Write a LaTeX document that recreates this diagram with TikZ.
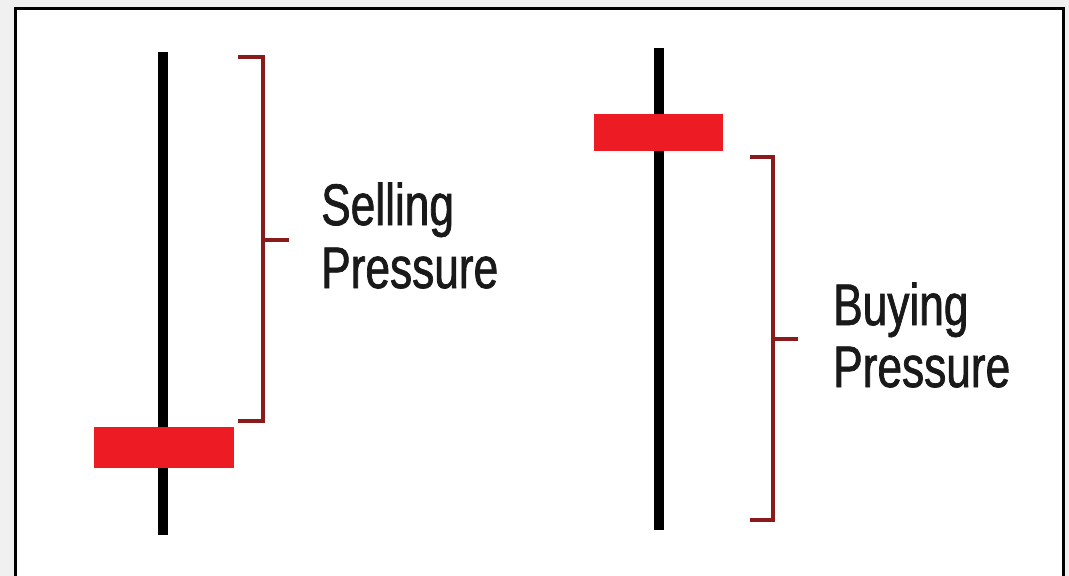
\documentclass[tikz,border=0pt]{standalone}
\usepackage{fontspec}
\newfontfamily\labelfont[FakeStretch=0.755,FakeBold=1.2]{Liberation Sans}
\definecolor{candlered}{RGB}{237,28,36}
\definecolor{bracered}{RGB}{136,28,28}
\definecolor{outergrey}{RGB}{240,240,240}
\tikzset{
  wick/.style={line width=10pt, black},
  body/.style={fill=candlered, draw=none},
  bracket/.style={line width=3.5pt, bracered, line join=miter},
  lbl/.style={anchor=base west, inner sep=0pt, font=\labelfont\fontsize{58.6}{60}\selectfont, text=black!90}
}
\begin{document}
\begin{tikzpicture}[x=1pt,y=-1pt]
  \useasboundingbox (0,0) rectangle (1069,576);
  \fill[outergrey] (0,0) rectangle (1069,576);
  \fill[white] (15,8) rectangle (1063,576);
  \draw[line width=3pt, black] (15,578) -- (15,8) -- (1063,8) -- (1063,578);

  % left candle
  \coordinate (lt) at (162.5,52);
  \coordinate (lb) at (162.5,535);
  \draw[wick] (lt) -- (lb);
  \fill[body] (94,427) rectangle (234,468);

  % right candle
  \coordinate (rt) at (658.5,48);
  \coordinate (rb) at (658.5,530);
  \draw[wick] (rt) -- (rb);
  \fill[body] (594,114) rectangle (723,151);

  % left bracket
  \coordinate (b1a) at (238,57);
  \coordinate (b1b) at (263,57);
  \coordinate (b1c) at (263,421);
  \coordinate (b1d) at (238,421);
  \coordinate (b1m) at (263,240);
  \coordinate (b1t) at (289,240);
  \draw[bracket] (b1a) -- (b1b) -- (b1c) -- (b1d);
  \draw[bracket] (b1m) -- (b1t);

  % right bracket
  \coordinate (b2a) at (750,157);
  \coordinate (b2b) at (773,157);
  \coordinate (b2c) at (773,520);
  \coordinate (b2d) at (750,520);
  \coordinate (b2m) at (773,339);
  \coordinate (b2t) at (798,339);
  \draw[bracket] (b2a) -- (b2b) -- (b2c) -- (b2d);
  \draw[bracket] (b2m) -- (b2t);

  % labels
  \node[lbl] (sell1) at (321,225) {Selling};
  \node[lbl] (sell2) at (321,288) {Pressure};
  \node[lbl] (buy1) at (833,325) {Buying};
  \node[lbl] (buy2) at (833,387) {Pressure};
\end{tikzpicture}
\end{document}
